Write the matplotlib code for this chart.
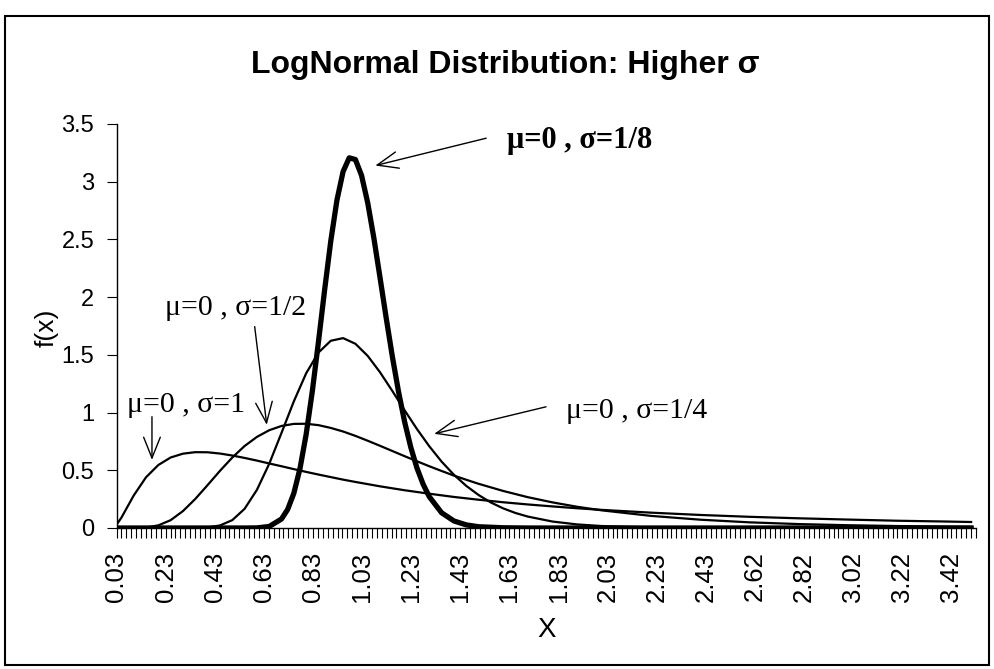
import numpy as np
import matplotlib.pyplot as plt
from matplotlib.patches import Rectangle

# values ####################################################################
x_s1 = [0.03, 0.05, 0.1, 0.15, 0.2, 0.25, 0.3, 0.35, 0.4, 0.45, 0.5, 0.55, 0.6,
        0.65, 0.7, 0.75, 0.8, 0.85, 0.9, 0.95, 1.0, 1.1, 1.2, 1.3, 1.4, 1.5,
        1.6, 1.7, 1.8, 1.9, 2.0, 2.2, 2.4, 2.6, 2.8, 3.0, 3.2, 3.4, 3.5]
y_s1 = [0.028, 0.090, 0.282, 0.440, 0.546, 0.611, 0.644, 0.657, 0.656, 0.645,
        0.628, 0.607, 0.584, 0.559, 0.535, 0.510, 0.486, 0.463, 0.441, 0.419,
        0.399, 0.361, 0.327, 0.297, 0.269, 0.245, 0.223, 0.204, 0.187, 0.171,
        0.157, 0.133, 0.113, 0.097, 0.084, 0.073, 0.063, 0.056, 0.052]

x_s2 = [0.03, 0.1, 0.15, 0.2, 0.25, 0.3, 0.35, 0.4, 0.45, 0.5, 0.55, 0.6, 0.65,
        0.7, 0.75, 0.8, 0.85, 0.9, 0.95, 1.0, 1.05, 1.1, 1.15, 1.2, 1.25, 1.3,
        1.35, 1.4, 1.45, 1.5, 1.6, 1.7, 1.8, 1.9, 2.0, 2.2, 2.4, 2.6, 2.8, 3.0,
        3.2, 3.4, 3.5]
y_s2 = [0.0, 0.0002, 0.004, 0.023, 0.068, 0.147, 0.252, 0.372, 0.495, 0.610,
        0.710, 0.789, 0.847, 0.884, 0.902, 0.903, 0.891, 0.867, 0.836, 0.798,
        0.756, 0.712, 0.667, 0.622, 0.578, 0.535, 0.494, 0.454, 0.418, 0.383,
        0.321, 0.267, 0.222, 0.184, 0.153, 0.105, 0.072, 0.049, 0.034, 0.024,
        0.017, 0.012, 0.010]

x_s4 = [0.03, 0.35, 0.4, 0.45, 0.5, 0.55, 0.6, 0.65, 0.7, 0.75, 0.8, 0.85, 0.9,
        0.95, 1.0, 1.05, 1.1, 1.15, 1.2, 1.25, 1.3, 1.35, 1.4, 1.45, 1.5, 1.55,
        1.6, 1.65, 1.7, 1.8, 1.9, 2.0, 2.2, 2.4, 2.6, 3.5]
y_s4 = [0.0, 0.001, 0.005, 0.022, 0.068, 0.166, 0.330, 0.556, 0.824, 1.097,
        1.340, 1.520, 1.622, 1.645, 1.596, 1.491, 1.349, 1.187, 1.019, 0.857,
        0.708, 0.575, 0.461, 0.365, 0.286, 0.221, 0.170, 0.130, 0.099, 0.056,
        0.031, 0.017, 0.005, 0.001, 0.0, 0.0]

x_s8 = [0.03, 0.55, 0.6, 0.65, 0.7, 0.725, 0.75, 0.775, 0.8, 0.825, 0.85, 0.875,
        0.9, 0.925, 0.95, 0.975, 1.0, 1.025, 1.05, 1.075, 1.1, 1.125, 1.15,
        1.175, 1.2, 1.225, 1.25, 1.275, 1.3, 1.35, 1.4, 1.45, 1.5, 1.6, 1.7, 3.5]
y_s8 = [0.0, 0.0, 0.001, 0.013, 0.078, 0.161, 0.301, 0.515, 0.811, 1.184, 1.613,
        2.062, 2.486, 2.840, 3.088, 3.207, 3.192, 3.054, 2.817, 2.511, 2.169,
        1.820, 1.485, 1.182, 0.918, 0.698, 0.519, 0.379, 0.271, 0.132, 0.061,
        0.027, 0.011, 0.002, 0.0, 0.0]

x_ticklabels = ["0.03", "0.23", "0.43", "0.63", "0.83", "1.03", "1.23", "1.43",
                "1.63", "1.83", "2.03", "2.23", "2.43", "2.62", "2.82", "3.02",
                "3.22", "3.42"]
y_ticks = [0, 0.5, 1, 1.5, 2, 2.5, 3, 3.5]
y_ticklabels = ["0", "0.5", "1", "1.5", "2", "2.5", "3", "3.5"]

# figure ######################################################################
sans = "Liberation Sans"
serif = "Liberation Serif"

fig = plt.figure(figsize=(9.94, 6.69), dpi=100)
ax = fig.add_axes([116.5/994, 1 - 528/669, (976 - 116.5)/994, (528 - 124)/669])

ax.plot(x_s1, y_s1, color="black", lw=1.6)
ax.plot(x_s2, y_s2, color="black", lw=1.6)
ax.plot(x_s4, y_s4, color="black", lw=1.6)
ax.plot(x_s8, y_s8, color="black", lw=3.8, solid_joinstyle="round")

ax.set_ylim(0, 3.5)
ax.set_xlim(0.03, 3.513)

# category axis: one tick per point, a label every 10th
step = (3.42 - 0.03) / 170
ax.set_xticks(0.03 + step * 10 * np.arange(len(x_ticklabels)))
ax.set_xticklabels(x_ticklabels, rotation=90, fontsize=18.5, family=sans)
ax.set_xticks(0.03 + step * np.arange(176), minor=True)
ax.tick_params(axis="x", which="both", direction="out", length=7, width=0.8,
               pad=10)
ax.set_yticks(y_ticks)
ax.set_yticklabels(y_ticklabels, fontsize=17, family=sans)
ax.tick_params(axis="y", direction="out", length=7, width=0.8, pad=9)

for s in ["top", "right"]:
    ax.spines[s].set_visible(False)
for s in ["left", "bottom"]:
    ax.spines[s].set_linewidth(1.0)

ax.set_xlabel("X", fontsize=20, family=sans)
ax.xaxis.set_label_coords((547 - 116.5)/859.5, -(630 - 528)/404)
ax.xaxis.label.set_va("center")
ax.set_ylabel("f(x)", fontsize=19, family=sans)
ax.yaxis.set_label_coords((47 - 116.5)/859.5, (528 - 328)/404)
ax.yaxis.label.set_va("center")

fig.text(505/994, 1 - 73/669, "LogNormal Distribution: Higher σ",
         ha="center", va="baseline", fontsize=23, fontweight="bold", family=sans)

# labels and arrows ###########################################################
arrow = dict(arrowstyle="->,head_length=0.75,head_width=0.3", color="black",
             lw=1.0, mutation_scale=20, shrinkA=0, shrinkB=0)

ax.annotate("", xy=(1.081, 3.14), xytext=(1.531, 3.377), arrowprops=arrow)
ax.text(1.616, 3.29, "μ=0 , σ=1/8", fontsize=22, fontweight="bold",
        family=serif, va="baseline")

ax.annotate("", xy=(1.320, 0.816), xytext=(1.774, 1.050), arrowprops=arrow)
ax.text(1.855, 0.955, "μ=0 , σ=1/4", fontsize=21.5, family=serif,
        va="baseline")

ax.annotate("", xy=(0.640, 0.894), xytext=(0.591, 1.745), arrowprops=arrow)
ax.text(0.226, 1.849, "μ=0 , σ=1/2", fontsize=21.5, family=serif,
        va="baseline")

ax.annotate("", xy=(0.174, 0.590), xytext=(0.174, 0.964), arrowprops=arrow)
ax.text(0.073, 1.007, "μ=0 , σ=1", fontsize=21.5, family=serif, va="baseline")

# outer chart border
fig.patches.append(Rectangle((5/994, 1 - 665/669), 984/994, 649/669,
                             transform=fig.transFigure, fill=False,
                             edgecolor="black", lw=1.5))

plt.savefig("out.png", dpi=100)
